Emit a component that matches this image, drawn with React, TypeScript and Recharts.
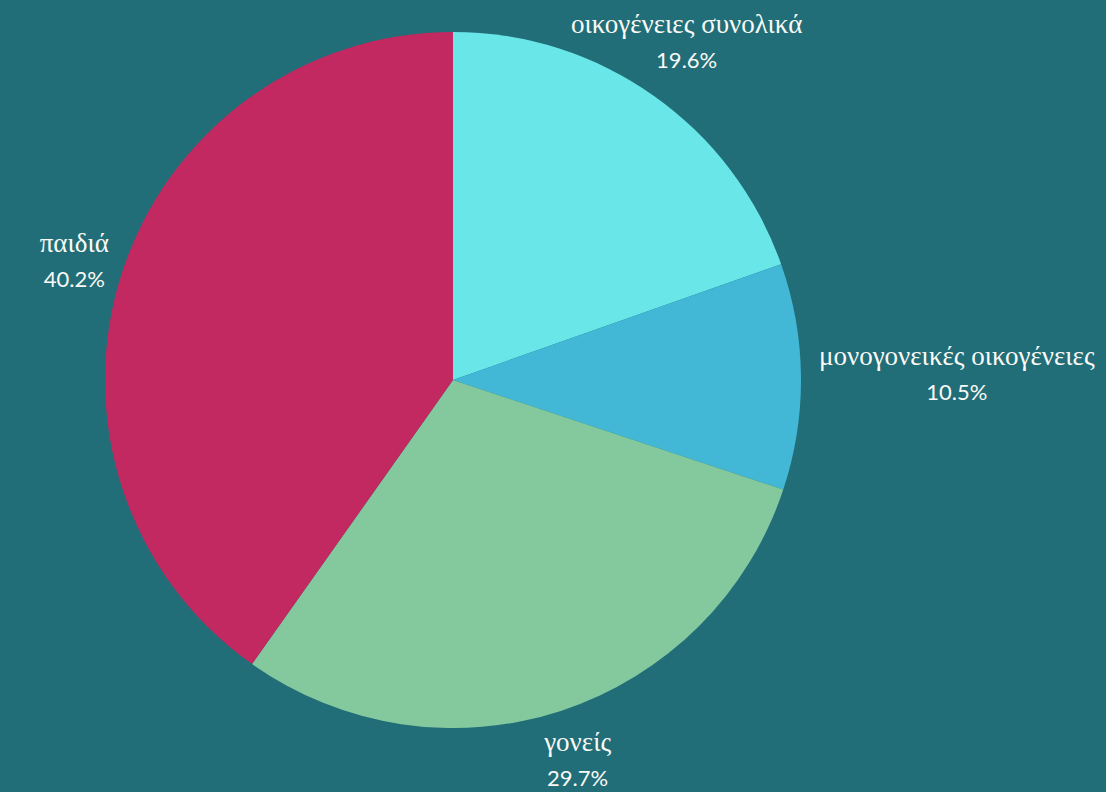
import React from "react";
import { PieChart, Pie, Cell } from "recharts";

const categories = ["οικογένειες συνολικά", "μονογονεικές οικογένειες", "γονείς", "παιδιά"];
const shares = [19.6, 10.5, 29.7, 40.2];
const colors = ["#68E6E8", "#42B7D6", "#84C89E", "#C22961"];

const data = categories.map((name, i) => ({ name, value: shares[i] }));

const NAME_FONT = "27px 'Liberation Serif'";
const PCT_FONT = "400 22px Lato";

let canvas: HTMLCanvasElement | null = null;
const measure = (text: string, font: string): number => {
  if (!canvas) canvas = document.createElement("canvas");
  const ctx = canvas.getContext("2d");
  if (!ctx) return text.length * 11;
  ctx.font = font;
  return ctx.measureText(text).width;
};

const RADIAN = Math.PI / 180;

// outside labels: the text block is pushed away from the rim depending on the slice angle
const renderLabel = (props: any) => {
  const { cx, cy, midAngle, outerRadius, name, percent } = props;
  const pct = (percent * 100).toFixed(1) + "%";
  const r = outerRadius + 18;
  const cos = Math.cos(-midAngle * RADIAN);
  const sin = Math.sin(midAngle * RADIAN);
  const px = cx + r * cos;
  const py = cy - r * sin;
  const halfW = Math.max(measure(name, NAME_FONT), measure(pct, PCT_FONT)) / 2;
  const halfH = 30;
  const fx = Math.abs(cos) < 0.5 ? cos : cos * cos * cos;
  const fy = sin > 0 ? 1.8 : 1.3;
  const x = px + halfW * fx;
  const y = py - halfH * fy * sin * Math.abs(sin);
  return (
    <text x={x} y={y} textAnchor="middle" fill="#FAFAF6">
      <tspan x={x} y={y - 12} style={{ font: NAME_FONT }}>
        {name}
      </tspan>
      <tspan x={x} y={y + 23} style={{ font: PCT_FONT }}>
        {pct}
      </tspan>
    </text>
  );
};

export default function App() {
  return (
    <div style={{ position: "absolute", left: 0, top: 0, width: 1106, height: 792, background: "#216E78" }}>
      <PieChart width={1106} height={792} margin={{ top: 0, right: 0, bottom: 0, left: 0 }}>
        <Pie
          data={data}
          dataKey="value"
          nameKey="name"
          cx={453}
          cy={380}
          outerRadius={348}
          startAngle={90}
          endAngle={-270}
          stroke="none"
          label={renderLabel}
          labelLine={false}
          isAnimationActive={false}
        >
          {data.map((d, i) => (
            <Cell key={d.name} fill={colors[i]} />
          ))}
        </Pie>
      </PieChart>
    </div>
  );
}
